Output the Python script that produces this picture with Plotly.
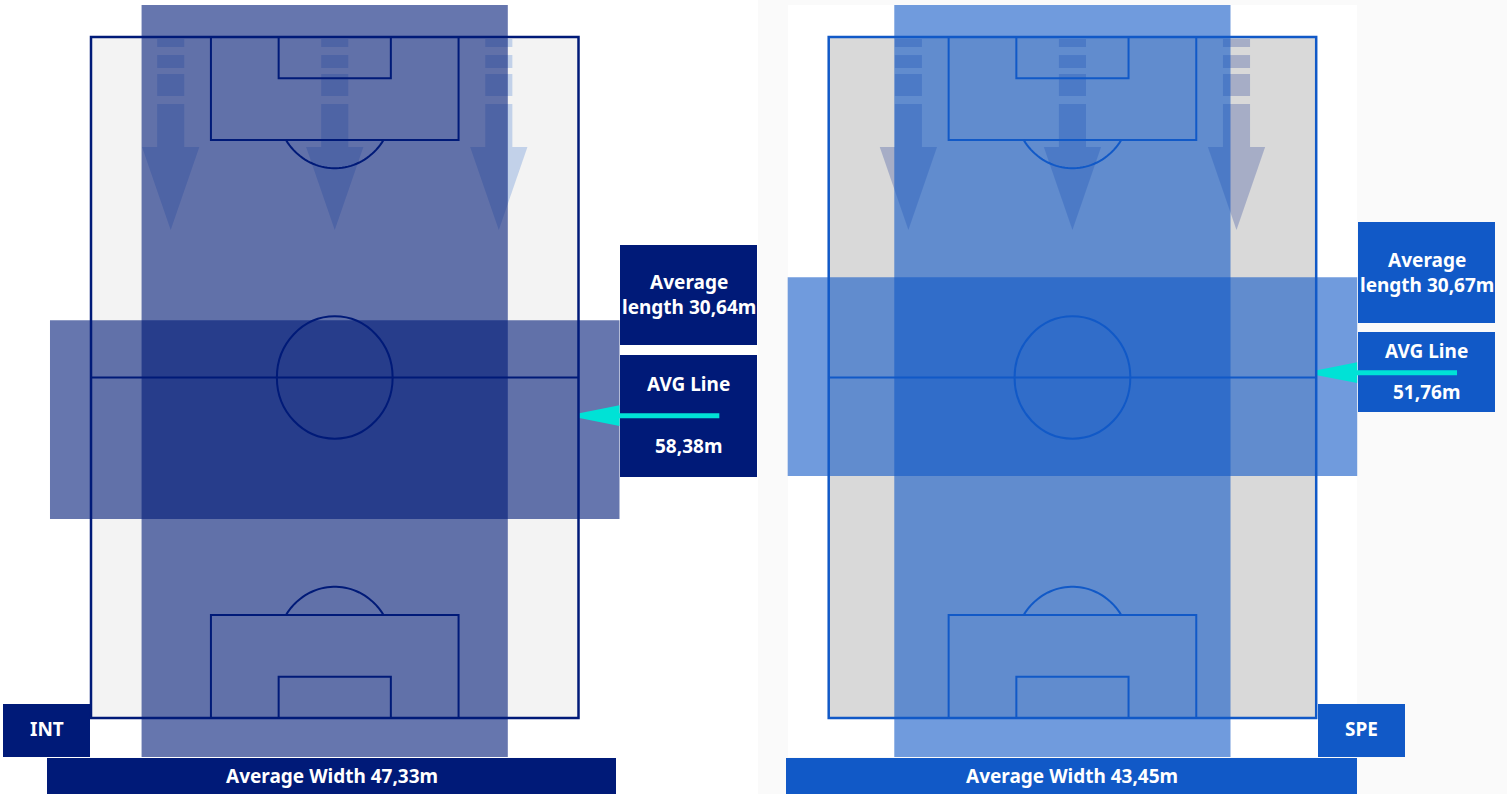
import numpy as np
import plotly.graph_objects as go

# ---------------- data ----------------
teams = ["INT", "SPE"]
avg_width_m = [47.33, 43.45]
avg_length_m = [30.64, 30.67]
avg_line_m = [58.38, 51.76]

# ---------------- style / layout constants ----------------
TEAM_COLORS = ["#001A78", "#1159C7"]
BAND_COLORS = ["rgba(0,26,120,0.6)", "rgba(17,89,199,0.6)"]
PITCH_FILLS = ["#F3F3F3", "#D9D9D9"]
ARROW_FILLS = ["rgba(90,137,213,0.32)", "rgba(60,80,160,0.32)"]
CYAN = "#00E2D6"
FONT = "Noto Sans"

W, H = 1507, 794
PITCH_W, PITCH_L = 63.0, 105.0
SX = 487.5 / PITCH_W          # px per metre (horizontal)
SY = 681.0 / PITCH_L          # px per metre (vertical)
PITCH_LEFT_PX = [91.0, 828.7]
PITCH_TOP_PX = 37.0
PANEL_PX = [(0.0, 753.5), (753.5, 1507.0)]

WIDTH_SHIFT = -1.3            # band offsets (m)
LENGTH_SHIFT = 0.6
BAND_Y = (-4.93, 111.0)       # vertical extent of width band (m)
BAND_X = (-5.3, 68.3)         # horizontal extent of length band (m)


def fmt(v):
    return f"{v:.2f}".replace(".", ",")


def px_x(p):
    return p / W


def px_y(p):
    return 1 - p / H


fig = go.Figure()
shapes = []
annotations = []

# page background: right half slightly grey, white card behind right panel
shapes.append(dict(type="rect", xref="paper", yref="paper", x0=px_x(758), x1=1, y0=0, y1=1,
                   fillcolor="#FAFAFA", line=dict(width=0), layer="below"))
shapes.append(dict(type="rect", xref="paper", yref="paper", x0=px_x(788), x1=px_x(1357),
                   y0=px_y(757), y1=px_y(5), fillcolor="#FFFFFF", line=dict(width=0), layer="below"))

layout_axes = {}

for i, team in enumerate(teams):
    sfx = "" if i == 0 else str(i + 1)
    xr, yr = "x" + sfx, "y" + sfx
    L, R = PANEL_PX[i]
    pl = PITCH_LEFT_PX[i]
    layout_axes["xaxis" + sfx] = dict(domain=[L / W, R / W], range=[(L - pl) / SX, (R - pl) / SX],
                                      visible=False, fixedrange=True, anchor=yr)
    layout_axes["yaxis" + sfx] = dict(domain=[0, 1], range=[(H - PITCH_TOP_PX) / SY, -PITCH_TOP_PX / SY],
                                      visible=False, fixedrange=True, anchor=xr)
    col = TEAM_COLORS[i]
    cx = PITCH_W / 2

    # pitch fill
    shapes.append(dict(type="rect", xref=xr, yref=yr, x0=0, x1=PITCH_W, y0=0, y1=PITCH_L,
                       fillcolor=PITCH_FILLS[i], line=dict(width=0), layer="below"))

    # attacking-direction arrows (dashed stems + heads)
    for ax in [cx - 21.2, cx, cx + 21.2]:
        sw, hw = 1.75, 3.7
        segs = [(0.31, 1.54), (2.78, 4.78), (5.70, 9.10), (10.33, 16.96)]
        for (a, b) in segs:
            shapes.append(dict(type="rect", xref=xr, yref=yr, x0=ax - sw, x1=ax + sw, y0=a, y1=b,
                               fillcolor=ARROW_FILLS[i], line=dict(width=0), layer="below"))
        path = f"M {ax - hw},16.96 L {ax + hw},16.96 L {ax},29.76 Z"
        shapes.append(dict(type="path", xref=xr, yref=yr, path=path,
                           fillcolor=ARROW_FILLS[i], line=dict(width=0), layer="below"))

    # width band
    w = avg_width_m[i]
    x0 = cx + WIDTH_SHIFT - w / 2
    x1 = x0 + w
    fig.add_trace(go.Scatter(x=[x0, x1, x1, x0, x0], y=[BAND_Y[0], BAND_Y[0], BAND_Y[1], BAND_Y[1], BAND_Y[0]],
                             fill="toself", fillcolor=BAND_COLORS[i], mode="lines", line=dict(width=0),
                             hoverinfo="skip", showlegend=False, xaxis=xr, yaxis=yr))
    # length band around average line
    ln = avg_length_m[i]
    y0 = avg_line_m[i] + LENGTH_SHIFT - ln / 2
    y1 = y0 + ln
    fig.add_trace(go.Scatter(x=[BAND_X[0], BAND_X[1], BAND_X[1], BAND_X[0], BAND_X[0]], y=[y0, y0, y1, y1, y0],
                             fill="toself", fillcolor=BAND_COLORS[i], mode="lines", line=dict(width=0),
                             hoverinfo="skip", showlegend=False, xaxis=xr, yaxis=yr))

    # cyan average-line arrow
    yl = avg_line_m[i]
    fig.add_trace(go.Scatter(x=[BAND_X[1] - 0.2, 81.2], y=[yl, yl], mode="lines",
                             line=dict(color=CYAN, width=5), hoverinfo="skip", showlegend=False,
                             xaxis=xr, yaxis=yr))
    fig.add_trace(go.Scatter(x=[PITCH_W + 0.1, BAND_X[1], BAND_X[1], PITCH_W + 0.1, PITCH_W + 0.1],
                             y=[yl - 0.38, yl - 1.6, yl + 1.6, yl + 0.38, yl - 0.38],
                             fill="toself", fillcolor=CYAN, mode="lines", line=dict(width=0),
                             hoverinfo="skip", showlegend=False, xaxis=xr, yaxis=yr))

    # pitch markings (above bands)
    lw = 2
    line = dict(color=col, width=lw)
    shapes.append(dict(type="rect", xref=xr, yref=yr, x0=0, x1=PITCH_W, y0=0, y1=PITCH_L,
                       line=dict(color=col, width=2.5), fillcolor="rgba(0,0,0,0)", layer="above"))
    pb_hw, pb_d = 16.0, 15.88
    ga_hw, ga_d = 7.25, 6.37
    for (ya, yb) in [(0, pb_d), (PITCH_L, PITCH_L - pb_d)]:
        shapes.append(dict(type="rect", xref=xr, yref=yr, x0=cx - pb_hw, x1=cx + pb_hw, y0=ya, y1=yb,
                           line=line, fillcolor="rgba(0,0,0,0)", layer="above"))
    for (ya, yb) in [(0, ga_d), (PITCH_L, PITCH_L - ga_d)]:
        shapes.append(dict(type="rect", xref=xr, yref=yr, x0=cx - ga_hw, x1=cx + ga_hw, y0=ya, y1=yb,
                           line=line, fillcolor="rgba(0,0,0,0)", layer="above"))
    # halfway line and centre circle
    shapes.append(dict(type="line", xref=xr, yref=yr, x0=0, x1=PITCH_W, y0=PITCH_L / 2, y1=PITCH_L / 2,
                       line=line, layer="above"))
    rx, ry = 7.48, 9.44
    shapes.append(dict(type="circle", xref=xr, yref=yr, x0=cx - rx, x1=cx + rx,
                       y0=PITCH_L / 2 - ry, y1=PITCH_L / 2 + ry, line=line,
                       fillcolor="rgba(0,0,0,0)", layer="above"))
    # penalty arcs
    spot = 10.8
    tmax = np.arccos((pb_d - spot) / ry)
    t = np.linspace(-tmax, tmax, 40)
    for sgn, base in [(1, 0.0), (-1, PITCH_L)]:
        xs = cx + rx * np.sin(t)
        ys = base + sgn * (spot + ry * np.cos(t))
        path = "M " + " L ".join(f"{a:.3f},{b:.3f}" for a, b in zip(xs, ys))
        shapes.append(dict(type="path", xref=xr, yref=yr, path=path, line=line, layer="above"))

# ---------------- label boxes ----------------
boxes = [
    # (team index, x0, y0, x1, y1) in page pixels
    (0, 620, 245, 757, 345), (0, 620, 355, 757, 477), (0, 3, 704, 90, 757), (0, 47, 758, 616, 794),
    (1, 1358, 222, 1495, 323), (1, 1358, 332, 1495, 412), (1, 1318, 704, 1405, 757), (1, 786, 758, 1357, 794),
]
for (ti, a, b, c, d) in boxes:
    shapes.append(dict(type="rect", xref="paper", yref="paper", x0=px_x(a), x1=px_x(c),
                       y0=px_y(d), y1=px_y(b), fillcolor=TEAM_COLORS[ti], line=dict(width=0), layer="below"))

text_pos = [
    dict(len=(688.5, 294.5), avg=(688.5, 384), val=(688.5, 446), team=(46.5, 729), width=(331.5, 776)),
    dict(len=(1426.5, 272.5), avg=(1426.5, 351), val=(1426.5, 392), team=(1361.5, 729), width=(1071.5, 776)),
]
for i, team in enumerate(teams):
    p = text_pos[i]
    texts = [
        (p["len"], f"Average<br>length {fmt(avg_length_m[i])}m"),
        (p["avg"], "AVG Line"),
        (p["val"], f"{fmt(avg_line_m[i])}m"),
        (p["team"], team),
        (p["width"], f"Average Width {fmt(avg_width_m[i])}m"),
    ]
    for (xx, yy), tx in texts:
        annotations.append(dict(xref="paper", yref="paper", x=px_x(xx), y=px_y(yy), text=tx,
                                showarrow=False, xanchor="center", yanchor="middle",
                                font=dict(family=FONT, size=19, color="white", weight="bold")))

fig.update_layout(
    width=W, height=H, autosize=False,
    margin=dict(l=0, r=0, t=0, b=0, pad=0),
    paper_bgcolor="white", plot_bgcolor="rgba(0,0,0,0)",
    shapes=shapes, annotations=annotations, showlegend=False,
    **layout_axes,
)

fig.write_html("out.html", config={"displayModeBar": False},
               post_script="document.body.style.margin='0';")
